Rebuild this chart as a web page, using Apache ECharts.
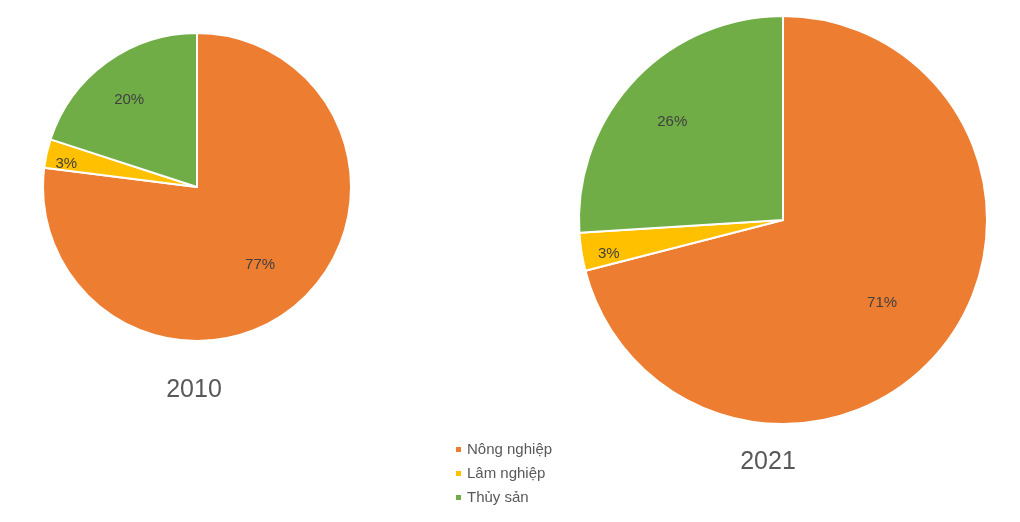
<!DOCTYPE html>
<html>
<head>
<meta charset="utf-8">
<script src="https://cdn.jsdelivr.net/npm/echarts@6/dist/echarts.min.js"></script>
<style>html,body{margin:0;padding:0;background:#fff}#c{width:1020px;height:522px}</style>
</head>
<body>
<div id="c"></div>
<script>
var categories = ['Nông nghiệp', 'Lâm nghiệp', 'Thủy sản'];
var years = ['2010', '2021'];
var values2010 = [77, 3, 20];
var values2021 = [71, 3, 26];

var colors = ['#ED7D31', '#FFC000', '#70AD47'];
var labelFrac = [0.6, 0.85, 0.73];
var labelDy = 6;
var FONT = 'Liberation Sans';

function buildData(vals, R) {
  var total = vals.reduce(function (a, b) { return a + b; }, 0);
  var cum = 0;
  return vals.map(function (v, i) {
    var th = 2 * Math.PI * (cum + v / 2) / total;
    cum += v;
    var dx = Math.sin(th), dy = -Math.cos(th);
    var k = (labelFrac[i] - 0.5) * R;
    return {
      name: categories[i],
      value: v,
      itemStyle: { color: colors[i] },
      label: { offset: [k * dx, k * dy + labelDy] }
    };
  });
}

function pie(vals, cx, cy, R) {
  return {
    type: 'pie',
    center: [cx, cy],
    radius: [0, R],
    startAngle: 90,
    clockwise: true,
    animation: false,
    silent: true,
    itemStyle: { borderColor: '#ffffff', borderWidth: 2 },
    label: {
      show: true,
      position: 'inside',
      formatter: '{c}%',
      color: '#404040',
      fontSize: 15,
      fontFamily: FONT
    },
    labelLine: { show: false },
    data: buildData(vals, R)
  };
}

var chart = echarts.init(document.getElementById('c'), null, { renderer: 'canvas' });
chart.setOption({
  backgroundColor: '#ffffff',
  animation: false,
  title: [
    { text: years[0], left: 189, top: 373, textAlign: 'center',
      textStyle: { color: '#595959', fontSize: 25, fontWeight: 'normal', fontFamily: FONT } },
    { text: years[1], left: 763, top: 445, textAlign: 'center',
      textStyle: { color: '#595959', fontSize: 25, fontWeight: 'normal', fontFamily: FONT } }
  ],
  legend: {
    orient: 'vertical',
    left: 449,
    top: 437,
    icon: 'rect',
    itemWidth: 7,
    itemHeight: 7,
    itemGap: 9,
    data: categories,
    textStyle: { color: '#595959', fontSize: 15, fontFamily: FONT }
  },
  series: [
    pie(values2010, 197, 187, 154),
    pie(values2021, 783, 220, 204)
  ]
});
</script>
</body>
</html>
